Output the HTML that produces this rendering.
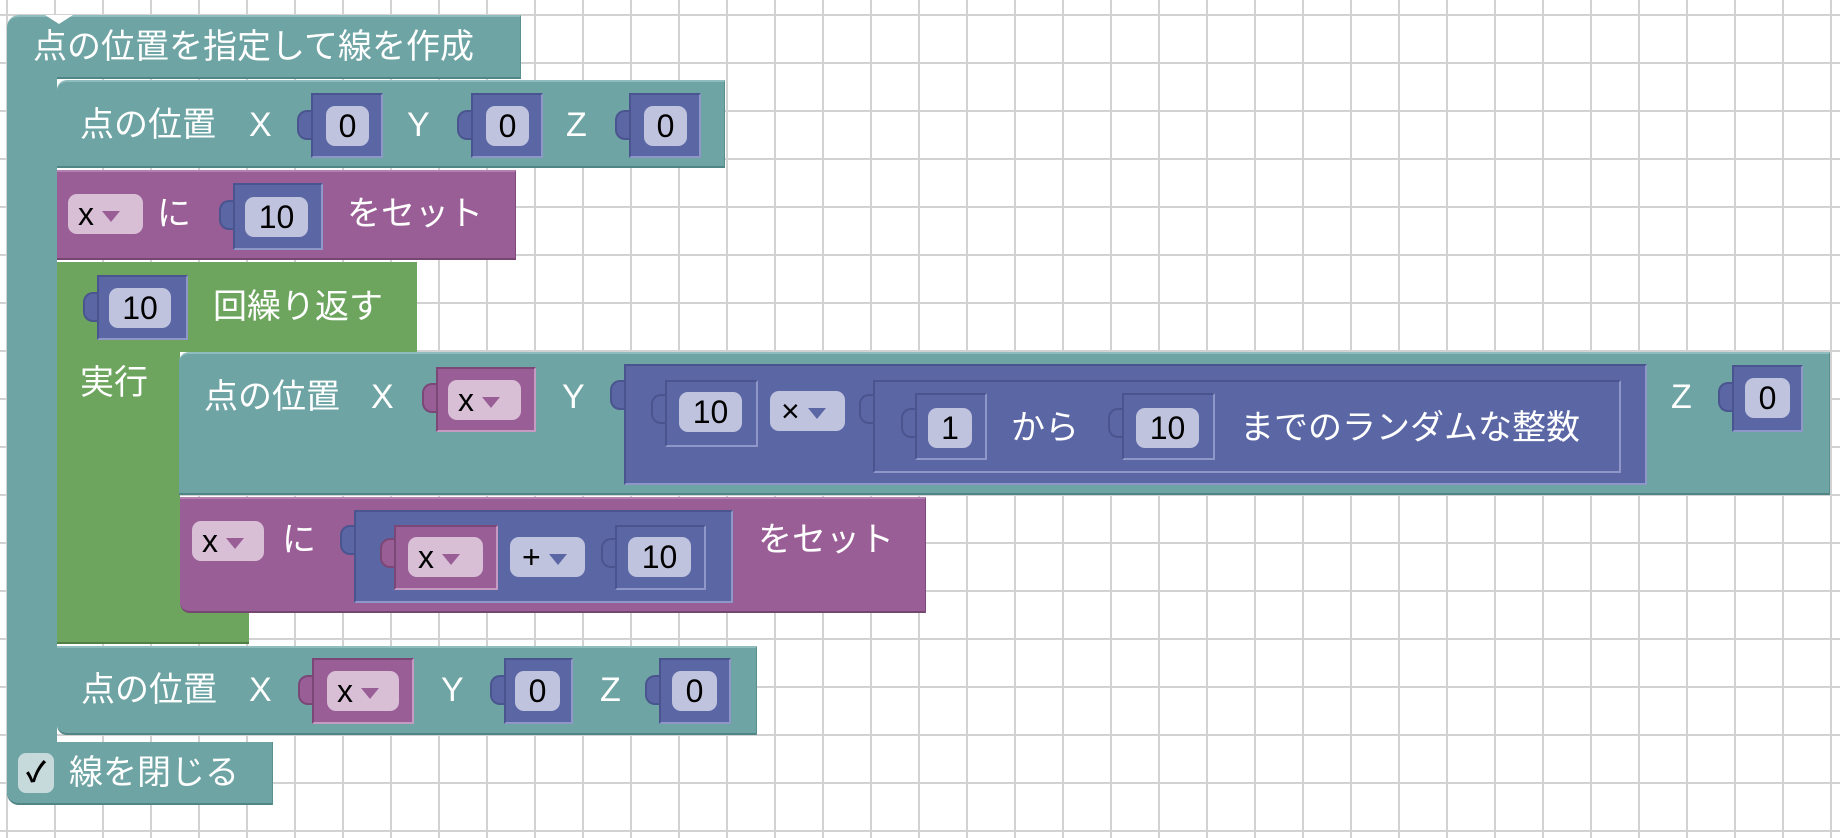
<!DOCTYPE html>
<html><head><meta charset="utf-8"><style>
html,body{margin:0;padding:0}
body{width:1840px;height:838px;position:relative;overflow:hidden;background:#fff;
background-image:linear-gradient(#d2d2d2 2px,transparent 2px),linear-gradient(90deg,#d2d2d2 2px,transparent 2px);
background-size:48px 48px;background-position:0 14px,6px 0;
font-family:"Liberation Sans","Noto Sans CJK JP",sans-serif}
div{position:absolute;box-sizing:border-box}
.t{background:#6fa4a4;border-top:2px solid #8fbcbc;border-bottom:2px solid #4f8585;border-right:1px solid #5a8f8f}
.p{background:#9a5e96;border-top:2px solid #b47fb1;border-bottom:2px solid #744670;border-right:1px solid #7f4a7b}
.g{background:#6da55f}
.lbl{color:#fff;font-size:34px;line-height:40px;white-space:nowrap}
.s{background:#5b67a5;border:2px solid;border-color:#4a558f #8e97c8 #8e97c8 #4a558f}
.sp{background:#9a5e96;border:2px solid;border-color:#7a4777 #c59bc2 #c59bc2 #7a4777}
.tab{width:14px;height:30px;border-radius:10px 0 0 10px;background:#5b67a5;border:2px solid #4a558f;border-right:none}
.tabp{width:14px;height:30px;border-radius:10px 0 0 10px;background:#9a5e96;border:2px solid #7a4777;border-right:none}
.f{background:#c0c3dd;border-radius:9px;color:#000;font-size:32px;text-align:center;line-height:40px}
.fp{background:#d8bfd6;border-radius:9px;color:#000;font-size:32px;text-align:left;padding-left:10px;line-height:40px}
.tri{display:inline-block;width:0;height:0;border-left:9px solid transparent;border-right:9px solid transparent;border-top:11px solid #9a5e96;margin-left:8px;vertical-align:middle}
.trib{border-top-color:#5b67a5}
.n{width:0;height:0;border-left:14px solid transparent;border-right:14px solid transparent;border-top:9px solid #fff}
</style></head><body>

<div class="t" style="left:7px;top:15px;width:514px;height:64px;border-radius:12px 0 0 0"></div>
<div style="left:7px;top:60px;width:50px;height:745px;background:#6fa4a4;border-radius:0 0 0 12px;border-bottom:2px solid #4f8585"></div>
<div class="lbl" style="left:33px;top:27px">点の位置を指定して線を作成</div>
<div class="n" style="left:45px;top:15px"></div>

<div class="t" style="left:57px;top:80px;width:668px;height:88px;border-radius:10px 0 0 0"></div>
<div class="lbl" style="left:80px;top:105px">点の位置</div>
<div class="lbl" style="left:249px;top:105px">X</div>
<div class="tab" style="left:297px;top:110px"></div>
<div class="s" style="left:311px;top:93px;width:72px;height:65px"></div>
<div class="f" style="left:326px;top:106px;width:43px">0</div>
<div class="lbl" style="left:407px;top:105px">Y</div>
<div class="tab" style="left:457px;top:110px"></div>
<div class="s" style="left:471px;top:93px;width:72px;height:65px"></div>
<div class="f" style="left:486px;top:106px;width:43px">0</div>
<div class="lbl" style="left:566px;top:105px">Z</div>
<div class="tab" style="left:615px;top:110px"></div>
<div class="s" style="left:629px;top:93px;width:72px;height:65px"></div>
<div class="f" style="left:644px;top:106px;width:43px">0</div>

<div class="p" style="left:57px;top:170px;width:459px;height:90px"></div>
<div class="fp" style="left:68px;top:194px;width:75px">x<span class="tri"></span></div>
<div class="lbl" style="left:157px;top:194px">に</div>
<div class="tab" style="left:219px;top:200px"></div>
<div class="s" style="left:233px;top:183px;width:90px;height:67px"></div>
<div class="f" style="left:245px;top:197px;width:63px">10</div>
<div class="lbl" style="left:347px;top:194px">をセット</div>

<div class="g" style="left:57px;top:262px;width:360px;height:90px"></div>
<div class="g" style="left:57px;top:340px;width:123px;height:304px"></div>
<div class="g" style="left:57px;top:600px;width:192px;height:44px;border-bottom:2px solid #4f7f45"></div>
<div class="tab" style="left:83px;top:292px"></div>
<div class="s" style="left:97px;top:275px;width:91px;height:65px"></div>
<div class="f" style="left:109px;top:288px;width:62px">10</div>
<div class="lbl" style="left:213px;top:287px">回繰り返す</div>
<div class="lbl" style="left:80px;top:363px">実行</div>

<div class="t" style="left:179px;top:352px;width:1651px;height:143px;border-radius:10px 0 0 0"></div>
<div class="lbl" style="left:204px;top:377px">点の位置</div>
<div class="lbl" style="left:371px;top:377px">X</div>
<div class="tabp" style="left:422px;top:383px"></div>
<div class="sp" style="left:436px;top:367px;width:100px;height:65px"></div>
<div class="fp" style="left:448px;top:380px;width:73px">x<span class="tri"></span></div>
<div class="lbl" style="left:562px;top:377px">Y</div>
<div class="tab" style="left:610px;top:380px"></div>
<div class="s" style="left:624px;top:364px;width:1023px;height:121px"></div>
<div class="tab" style="left:651px;top:394px"></div>
<div class="s" style="left:665px;top:380px;width:93px;height:67px"></div>
<div class="f" style="left:679px;top:392px;width:63px">10</div>
<div class="f" style="left:770px;top:391px;width:75px;text-align:left;padding-left:11px">×<span class="tri trib"></span></div>
<div class="tab" style="left:859px;top:394px"></div>
<div class="s" style="left:873px;top:380px;width:748px;height:93px"></div>
<div class="tab" style="left:901px;top:408px"></div>
<div class="s" style="left:915px;top:393px;width:72px;height:67px"></div>
<div class="f" style="left:928px;top:408px;width:44px">1</div>
<div class="lbl" style="left:1011px;top:408px">から</div>
<div class="tab" style="left:1108px;top:408px"></div>
<div class="s" style="left:1122px;top:393px;width:93px;height:67px"></div>
<div class="f" style="left:1136px;top:408px;width:63px">10</div>
<div class="lbl" style="left:1240px;top:408px">までのランダムな整数</div>
<div class="lbl" style="left:1671px;top:377px">Z</div>
<div class="tab" style="left:1718px;top:382px"></div>
<div class="s" style="left:1732px;top:365px;width:71px;height:67px"></div>
<div class="f" style="left:1745px;top:378px;width:45px">0</div>

<div class="p" style="left:180px;top:497px;width:746px;height:116px;border-radius:0 0 0 10px"></div>
<div class="fp" style="left:192px;top:521px;width:72px">x<span class="tri"></span></div>
<div class="lbl" style="left:282px;top:520px">に</div>
<div class="tab" style="left:340px;top:525px"></div>
<div class="s" style="left:354px;top:510px;width:379px;height:93px"></div>
<div class="tabp" style="left:380px;top:538px"></div>
<div class="sp" style="left:394px;top:525px;width:104px;height:65px"></div>
<div class="fp" style="left:408px;top:537px;width:75px">x<span class="tri"></span></div>
<div class="f" style="left:510px;top:537px;width:75px;text-align:left;padding-left:12px">+<span class="tri trib"></span></div>
<div class="tab" style="left:601px;top:538px"></div>
<div class="s" style="left:615px;top:525px;width:91px;height:65px"></div>
<div class="f" style="left:628px;top:537px;width:63px">10</div>
<div class="lbl" style="left:758px;top:520px">をセット</div>

<div class="t" style="left:57px;top:646px;width:700px;height:89px;border-radius:0 0 0 10px"></div>
<div class="lbl" style="left:81px;top:670px">点の位置</div>
<div class="lbl" style="left:249px;top:670px">X</div>
<div class="tabp" style="left:298px;top:675px"></div>
<div class="sp" style="left:312px;top:658px;width:102px;height:66px"></div>
<div class="fp" style="left:327px;top:671px;width:72px">x<span class="tri"></span></div>
<div class="lbl" style="left:441px;top:670px">Y</div>
<div class="tab" style="left:490px;top:675px"></div>
<div class="s" style="left:504px;top:658px;width:69px;height:66px"></div>
<div class="f" style="left:515px;top:671px;width:45px">0</div>
<div class="lbl" style="left:600px;top:670px">Z</div>
<div class="tab" style="left:645px;top:675px"></div>
<div class="s" style="left:659px;top:658px;width:72px;height:66px"></div>
<div class="f" style="left:672px;top:671px;width:45px">0</div>

<div class="t" style="left:7px;top:742px;width:266px;height:63px;border-top:none;border-radius:0 0 0 12px"></div>
<div style="left:18px;top:753px;width:36px;height:40px;background:#c7dadb;border-radius:8px;color:#000;font-size:28px;line-height:40px;text-align:center;font-weight:bold">✓</div>
<div class="lbl" style="left:69px;top:753px">線を閉じる</div>

</body></html>
